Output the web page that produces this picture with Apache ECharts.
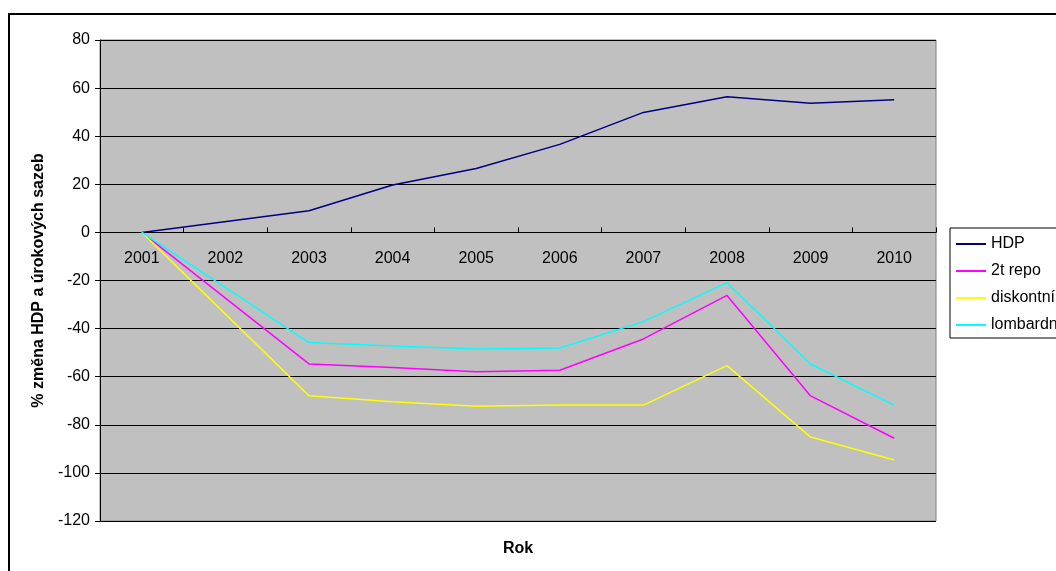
<!DOCTYPE html>
<html>
<head>
<meta charset="utf-8">
<script src="https://cdn.jsdelivr.net/npm/echarts@6/dist/echarts.min.js"></script>
<style>
  html, body { margin: 0; padding: 0; background: #fff; }
  #chart { width: 1056px; height: 571px; }
</style>
</head>
<body>
<div id="chart"></div>
<script>
// Years on the category axis (2002 has no observation; lines bridge the gap)
const years = ['2001', '2002', '2003', '2004', '2005', '2006', '2007', '2008', '2009', '2010'];

// % change since 2001
const hdp       = [0, null,   9.0,  19.7,  26.6,  36.6,  49.9,  56.4,  53.7,  55.2];
const repo2t    = [0, null, -54.7, -56.2, -57.9, -57.3, -44.3, -26.2, -68.0, -85.6];
const diskontni = [0, null, -67.9, -70.4, -72.3, -71.8, -71.8, -55.4, -85.1, -94.6];
const lombardni = [0, null, -45.8, -47.2, -48.5, -48.1, -37.1, -20.9, -54.7, -71.8];

const seriesNames = ['HDP', '2t repo', 'diskontní', 'lombardní'];
const seriesColors = ['#000080', '#FF00FF', '#FFFF00', '#00FFFF'];
const seriesData = [hdp, repo2t, diskontni, lombardni];

const FONT = '"Liberation Sans", Arial, sans-serif';

// Plot frame and value range
const GRID = { left: 100, right: 120, top: 40, bottom: 50 };
const Y_MIN = -120, Y_MAX = 80;
const plotHeight = 571 - GRID.top - GRID.bottom;
// Shift the category axis up so it sits on the zero line
const zeroOffset = -plotHeight * (0 - Y_MIN) / (Y_MAX - Y_MIN);

const chart = echarts.init(document.getElementById('chart'), null, { renderer: 'canvas' });

chart.setOption({
  animation: false,
  backgroundColor: '#ffffff',
  textStyle: { fontFamily: FONT, color: '#000' },
  grid: {
    left: GRID.left, right: GRID.right, top: GRID.top, bottom: GRID.bottom,
    show: true,
    backgroundColor: '#C0C0C0',
    borderColor: '#808080',
    borderWidth: 1
  },
  legend: {
    orient: 'vertical',
    left: 950,
    top: 228,
    data: seriesNames,
    icon: 'rect',
    itemWidth: 30,
    itemHeight: 2,
    itemGap: 11,
    padding: [8, 8, 5, 6],
    borderColor: '#000',
    borderWidth: 1,
    backgroundColor: '#fff',
    textStyle: { fontFamily: FONT, fontSize: 16, color: '#000', lineHeight: 16 }
  },
  xAxis: {
    type: 'category',
    data: years,
    boundaryGap: true,
    position: 'bottom',
    offset: zeroOffset,
    axisLine: { onZero: false, lineStyle: { color: '#000', width: 1 } },
    axisTick: { show: true, inside: true, length: 5, interval: 0, lineStyle: { color: '#000' } },
    axisLabel: { fontFamily: FONT, fontSize: 16, color: '#000', margin: 18, interval: 0 },
    splitLine: { show: false }
  },
  yAxis: {
    type: 'value',
    min: Y_MIN,
    max: Y_MAX,
    interval: 20,
    name: '% změna HDP a úrokových sazeb',
    nameLocation: 'middle',
    nameGap: 50,
    nameRotate: 90,
    nameTextStyle: { fontFamily: FONT, fontSize: 16, fontWeight: 'bold', color: '#000' },
    axisLine: { show: true, lineStyle: { color: '#000', width: 1 } },
    axisTick: { show: true, length: 5, lineStyle: { color: '#000' } },
    axisLabel: { fontFamily: FONT, fontSize: 16, color: '#000', margin: 10 },
    splitLine: { show: true, lineStyle: { color: '#000', width: 1 } }
  },
  graphic: [
    {
      type: 'rect',
      shape: { x: 9, y: 14, width: 1200, height: 700 },
      style: { fill: 'none', stroke: '#000', lineWidth: 2 },
      silent: true,
      z: -10
    },
    {
      type: 'text',
      x: 518,
      y: 549,
      style: {
        text: 'Rok', fontFamily: FONT, fontSize: 16, fontWeight: 'bold', fill: '#000',
        align: 'center', verticalAlign: 'middle'
      }
    }
  ],
  series: seriesNames.map((name, i) => ({
    name: name,
    type: 'line',
    data: seriesData[i],
    connectNulls: true,
    symbol: 'none',
    lineStyle: { color: seriesColors[i], width: 1.5 },
    itemStyle: { color: seriesColors[i] },
    z: 3
  }))
});
</script>
</body>
</html>
